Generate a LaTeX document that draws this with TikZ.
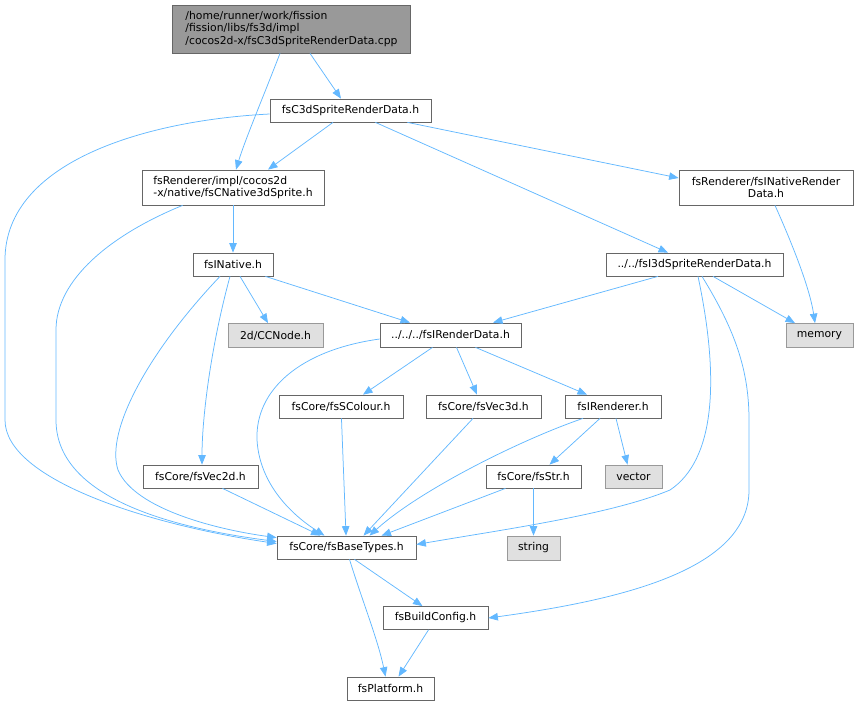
\documentclass[tikz,border=0pt]{standalone}
\usepackage{fontspec}
\setmainfont{DejaVu Sans}
\usetikzlibrary{positioning, arrows.meta, calc}
\definecolor{boxgray}{HTML}{666666}
\definecolor{sysgray}{HTML}{999999}
\definecolor{sysfill}{HTML}{E0E0E0}
\definecolor{rootfill}{HTML}{999999}
\definecolor{depblue}{HTML}{63B8FF}
\tikzset{
  file/.style={draw=boxgray, fill=white, line width=0.75pt, minimum height=23pt, inner sep=0pt, font=\fontsize{10.8}{12.7}\selectfont, align=center},
  sysfile/.style={file, draw=sysgray, fill=sysfill},
  rootfile/.style={file, fill=rootfill, align=left},
  dep/.style={draw=depblue, line width=0.75pt, -{Triangle[length=9.5pt,width=7.5pt]}}
}

\begin{document}
\begin{tikzpicture}[x=1pt, y=-1pt]
        \useasboundingbox (0,0) rectangle (859,705);
        % files
        \node (root) [rootfile, minimum width=238pt, minimum height=48pt] at (291.5,29) {/home/runner/work/fission\\/fission/libs/fs3d/impl\\/cocos2d-x/fsC3dSpriteRenderData.cpp};
        \node (c3d) [file, minimum width=161pt] at (350.5,110.5) {fsC3dSpriteRenderData.h};
        \node (native3d) [file, align=left, minimum width=182pt, minimum height=35pt] at (233,187.5) {fsRenderer/impl/cocos2d\\-x/native/fsCNative3dSprite.h};
        \node (nrd) [file, minimum width=174pt, minimum height=35pt] at (766,187.5) {fsRenderer/fsINativeRender\\Data.h};
        \node (i3d) [file, minimum width=177pt] at (694.5,264.5) {../../fsI3dSpriteRenderData.h};
        \node (inative) [file, minimum width=80pt] at (233,264.5) {fsINative.h};
        \node (memory) [sysfile, minimum width=67pt, minimum height=24pt] at (819.5,335.5) {memory};
        \node (ccnode) [sysfile, minimum width=95pt, minimum height=24pt] at (275.5,335.5) {2d/CCNode.h};
        \node (ird) [file, minimum width=141pt, minimum height=24pt] at (450.5,335) {../../../fsIRenderData.h};
        \node (scolour) [file, minimum width=124pt] at (341,406.5) {fsCore/fsSColour.h};
        \node (vec3d) [file, minimum width=115pt] at (483.5,406.5) {fsCore/fsVec3d.h};
        \node (irenderer) [file, minimum width=96pt] at (613,406.5) {fsIRenderer.h};
        \node (vec2d) [file, minimum width=115pt] at (200.5,476.5) {fsCore/fsVec2d.h};
        \node (str) [file, minimum width=95pt] at (533.5,476.5) {fsCore/fsStr.h};
        \node (vector) [sysfile, minimum width=57pt] at (633.5,476.5) {vector};
        \node (string) [sysfile, minimum width=53pt, minimum height=24pt] at (533.5,548) {string};
        \node (basetypes) [file, minimum width=139pt] at (346.5,547.5) {fsCore/fsBaseTypes.h};
        \node (buildconfig) [file, minimum width=105pt] at (435.5,618) {fsBuildConfig.h};
        \node (platform) [file, minimum width=87pt] at (390.5,688.5) {fsPlatform.h};

        % includes
        \draw [dep] ($(root.south)+(18.5,0)$) -- ($(c3d.north)+(-9.5,0)$);
        \draw [dep] ($(root.south)+(-11.5,0)$) .. controls (262,100) and (245,140) .. ($(native3d.north)+(3,0)$);
        \draw [dep] ($(c3d.south)+(-17.5,0)$) -- ($(native3d.north)+(35,0)$);
        \draw [dep] ($(c3d.south east)+(-24,0)$) -- ($(nrd.west)+(0,-9.5)$);
        \draw [dep] ($(c3d.south east)+(-56,0)$) -- ($(i3d.north)+(-26.5,0)$);
        \draw [dep] ($(c3d.west)+(0,3.5)$) .. controls (150,120) and (5,160) .. (5,260) -- (5,420) .. controls (5,480) and (150,525) .. ($(basetypes.west)+(0,-4)$);
        \draw [dep] ($(native3d.south west)+(41,0)$) .. controls (110,235) and (56,280) .. (56,330) -- (56,420) .. controls (56,490) and (150,525) .. ($(basetypes.west)+(0,-6)$);
        \draw [dep] (native3d) -- (inative);
        \draw [dep] ($(nrd.south)+(9,0)$) .. controls (795,250) and (810,290) .. ($(memory.north)+(-4.5,0)$);
        \draw [dep] ($(i3d.south)+(-36.5,0)$) -- ($(ird.north)+(42.5,0)$);
        \draw [dep] ($(i3d.south)+(18.5,0)$) -- ($(memory.north)+(-24.5,0)$);
        \draw [dep] ($(i3d.south)+(3.5,0)$) .. controls (720,380) and (715,460) .. (670,490) .. controls (610,515) and (500,530) .. ($(basetypes.east)+(0,-3)$);
        \draw [dep] ($(i3d.south)+(7.5,0)$) .. controls (735,330) and (749,370) .. (749,420) -- (749,490) .. controls (749,570) and (620,600) .. (buildconfig.east);
        \draw [dep] ($(inative.south)+(7,0)$) -- ($(ccnode.north)+(-7.5,0)$);
        \draw [dep] ($(inative.south east)+(-8,0)$) -- ($(ird.north)+(-40.5,0)$);
        \draw [dep] ($(inative.south)+(-3,0)$) .. controls (210,350) and (202,420) .. ($(vec2d.north)+(1.5,0)$);
        \draw [dep] ($(inative.south)+(-13,0)$) .. controls (150,350) and (105,430) .. (118,470) .. controls (135,510) and (220,530) .. ($(basetypes.north west)+(0,2)$);
        \draw [dep] ($(ird.south)+(-18,0)$) -- ($(scolour.north)+(22,0)$);
        \draw [dep] ($(ird.south)+(6,0)$) -- ($(vec3d.north)+(-6.5,0)$);
        \draw [dep] ($(ird.south)+(25,0)$) -- ($(irenderer.north)+(-26,0)$);
        \draw [dep] ($(ird.west)+(0,4)$) .. controls (300,350) and (255,390) .. (257,440) .. controls (260,490) and (300,520) .. ($(basetypes.north)+(-22,0)$);
        \draw [dep] (scolour) -- (basetypes);
        \draw [dep] ($(vec3d.south)+(-10.5,0)$) -- ($(basetypes.north)+(17,0)$);
        \draw [dep] ($(irenderer.south)+(-30,0)$) .. controls (520,440) and (420,490) .. ($(basetypes.north)+(23,0)$);
        \draw [dep] ($(irenderer.south)+(-13,0)$) -- ($(str.north)+(16,0)$);
        \draw [dep] ($(irenderer.south)+(3,0)$) -- ($(vector.north)+(-6,0)$);
        \draw [dep] ($(vec2d.south)+(22,0)$) -- ($(basetypes.north)+(-26,0)$);
        \draw [dep] ($(str.south)+(-28,0)$) -- ($(basetypes.north)+(35,0)$);
        \draw [dep] (str) -- (string);
        \draw [dep] ($(basetypes.south)+(8,0)$) -- ($(buildconfig.north)+(-13,0)$);
        \draw [dep] ($(basetypes.south)+(3,0)$) .. controls (362,600) and (378,640) .. ($(platform.north)+(-5,0)$);
        \draw [dep] ($(buildconfig.south)+(-7,0)$) -- ($(platform.north)+(8,0)$);
\end{tikzpicture}
\end{document}
